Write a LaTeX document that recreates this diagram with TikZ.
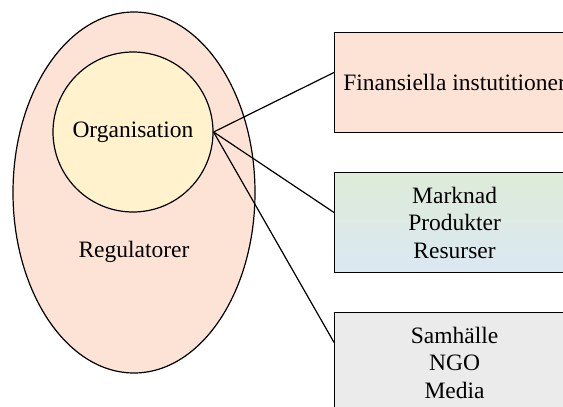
\documentclass[tikz,border=0pt]{standalone}
\usepackage{fontspec}
\setmainfont{Liberation Serif}
\usetikzlibrary{calc,shapes.geometric}
\definecolor{peach}{HTML}{FDE3D6}
\definecolor{paleyellow}{HTML}{FFF2CC}
\definecolor{palegreen}{HTML}{DDEBD8}
\definecolor{paleblue}{HTML}{DCE8F3}
\definecolor{palegray}{HTML}{EBEBEB}

\begin{document}
\begin{tikzpicture}[x=1pt, y=-1pt, line width=1.2pt, font=\fontsize{23.5}{27.5}\selectfont,
	actorbox/.style={draw, rectangle, minimum width=240pt, minimum height=100pt, inner sep=0pt, align=center, anchor=north west}]
	\useasboundingbox (0,0) rectangle (563,407);
	\node[draw, ellipse, fill=peach, minimum width=242pt, minimum height=361pt, inner sep=0pt] (reg) at (134,192.5) {};
	\node (regtext) at (134,252) {Regulatorer};
	\node[draw, circle, fill=paleyellow, minimum size=160pt, inner sep=0pt] (org) at (133,132) {Organisation};
	\node[actorbox, fill=peach] (fin) at (334,32) {Finansiella instutitioner};
	\node[actorbox, top color=palegreen, bottom color=paleblue] (mark) at (334,172) {Marknad\\Produkter\\Resurser};
	\node[actorbox, fill=palegray] (samh) at (334,312) {Samhälle\\NGO\\Media};
	\draw (org.east) -- ($(fin.north west)!.4!(fin.south west)$);
	\draw (org.east) -- ($(mark.north west)!.4!(mark.south west)$);
	\draw (org.east) -- ($(samh.north west)!.3!(samh.south west)$);
\end{tikzpicture}
\end{document}
